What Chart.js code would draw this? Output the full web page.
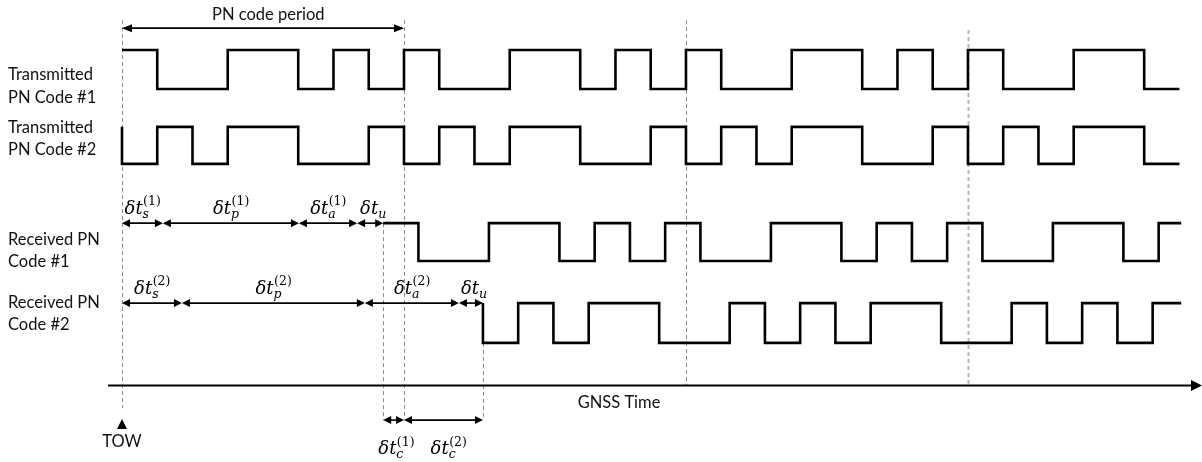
<!DOCTYPE html>
<html>
<head>
<meta charset="utf-8">
<script src="https://cdn.jsdelivr.net/npm/chart.js@4.4.1/dist/chart.umd.min.js"></script>
<style>
  html, body { margin: 0; padding: 0; background: #fff; }
  #wrap { width: 1202px; height: 462px; }
</style>
</head>
<body>
<div id="wrap"><canvas id="c" width="1202" height="462"></canvas></div>
<script>
// ---------------- DATA (x unit = one code chip, TOW = 0) ----------------
const codeLength = 8;                 // chips per PN code period
const windowEnd = 30.05;              // right end of the drawn signals (chips)

// chip values (1 = high, 0 = low)
const tx1Chips = [1,0,0,1,1,0,1,0, 1,0,0,1,1,0,1,0, 1,0,0,1,1,0,1,0, 1,0,0,1,1,0];
const tx2Chips = [0,1,0,1,1,0,0,1, 0,1,0,1,1,0,0,1, 0,1,0,1,1,0,0,1, 0,1,0,1,1,0];
const rx1Chips = [1,0,0,1,1,0,1,0, 1,0,0,1,1,0,1,0, 1,0,0,1,1,0,1];
const rx2Chips = [0,1,0,1,1,0,0,1, 0,1,0,1,1,0,0,1, 0,1,0,1];

// delay components (chips): satellite clock, propagation, atmosphere, user clock
const rx1Delays = [1.16, 3.86, 1.65, 0.74];
const rx2Delays = [1.70, 5.19, 2.67, 0.68];
const delayNames = ['s', 'p', 'a', 'u'];

const tx1Start = 0, tx2Start = 0;
const rx1Start = rx1Delays.reduce((a, b) => a + b, 0);   // ≈ 7.41
const rx2Start = rx2Delays.reduce((a, b) => a + b, 0);   // ≈ 10.24

// period boundaries (chips) drawn as dashed guide lines
const periodMarks = [0, 8, 16, 24];

// text
const rowLabels = [
  ['Transmitted', 'PN Code #1'],
  ['Transmitted', 'PN Code #2'],
  ['Received PN', 'Code #1'],
  ['Received PN', 'Code #2']
];

// ---------------- LAYOUT (positions / styles, in y-scale units) ----------------
const rows = {           // [low, high]
  tx1: [7.59, 8.59],
  tx2: [5.67, 6.62],
  rx1: [3.18, 4.15],
  rx2: [1.08, 2.10]
};
const labelY = [[7.95, 7.38], [6.59, 6.03], [3.72, 3.15], [2.10, 1.54]];
const TXT_FONT = '"Lato", "Open Sans", sans-serif';
const MATH_FONT = '"DejaVu Serif", serif';

function buildSteps(chips, start, row, leadEdge) {
  const pts = [];
  const [lo, hi] = rows[row];
  if (leadEdge) pts.push({ x: start, y: chips[0] ? lo : hi });
  chips.forEach((c, i) => {
    const x = start + i;
    if (x < windowEnd) pts.push({ x: x, y: c ? hi : lo });
  });
  const last = chips[chips.length - 1];
  pts.push({ x: Math.min(start + chips.length, windowEnd), y: last ? hi : lo });
  return pts;
}

function sigDataset(data) {
  return {
    data: data, stepped: 'before', borderColor: '#000', borderWidth: 2.6,
    pointRadius: 0, fill: false, borderJoinStyle: 'miter', borderCapStyle: 'butt'
  };
}

function arrowHead(ctx, x, y, dir, len, half) {
  ctx.beginPath();
  ctx.moveTo(x, y);
  ctx.lineTo(x - dir * len, y - half);
  ctx.lineTo(x - dir * len, y + half);
  ctx.closePath();
  ctx.fill();
}
function dblArrow(ctx, x1, x2, y, len, half, lw) {
  ctx.lineWidth = lw;
  ctx.beginPath();
  ctx.moveTo(x1 + 2, y);
  ctx.lineTo(x2 - 2, y);
  ctx.stroke();
  arrowHead(ctx, x1, y, -1, len, half);
  arrowHead(ctx, x2, y, 1, len, half);
}
function mathLabel(ctx, cx, base, sub, sup) {
  const mainF = 'italic 18px ' + MATH_FONT;
  const subF = 'italic 12.5px ' + MATH_FONT;
  const supF = '12.5px ' + MATH_FONT;
  ctx.font = mainF; const wm = ctx.measureText('\u03B4t').width;
  ctx.font = subF; const ws = ctx.measureText(sub).width;
  let wp = 0;
  if (sup) { ctx.font = supF; wp = ctx.measureText(sup).width; }
  const total = wm + Math.max(ws, wp);
  const x0 = cx - total / 2;
  ctx.textAlign = 'left'; ctx.textBaseline = 'alphabetic';
  ctx.font = mainF; ctx.fillText('\u03B4t', x0, base);
  ctx.font = subF; ctx.fillText(sub, x0 + wm, base + 4);
  if (sup) { ctx.font = supF; ctx.fillText(sup, x0 + wm + 0.5, base - 8.5); }
}

const overlay = {
  id: 'overlay',
  beforeDatasetsDraw(chart) {
    const ctx = chart.ctx, xs = chart.scales.x, ys = chart.scales.y;
    const px = v => xs.getPixelForValue(v), py = v => ys.getPixelForValue(v);
    ctx.save();
    // dashed guide lines
    const guides = [
      { x: periodMarks[0], y1: 9.36, y2: -0.59, c: '#8a8a8a', w: 1, d: [4, 3] },
      { x: rx1Start,       y1: rows.rx1[1], y2: -0.90, c: '#8a8a8a', w: 1, d: [4, 3] },
      { x: periodMarks[1], y1: 9.36, y2: -0.90, c: '#8a8a8a', w: 1, d: [4, 3] },
      { x: rx2Start,       y1: rows.rx2[0], y2: -0.90, c: '#8a8a8a', w: 1, d: [4, 3] },
      { x: periodMarks[2], y1: 9.36, y2: 0, c: '#8a8a8a', w: 1, d: [4, 3] },
      { x: periodMarks[3], y1: 9.10, y2: 0, c: '#b8b8b8', w: 2, d: [4, 3] }
    ];
    guides.forEach(g => {
      ctx.strokeStyle = g.c; ctx.lineWidth = g.w; ctx.setLineDash(g.d);
      const x = Math.round(px(g.x)) + 0.5;
      ctx.beginPath(); ctx.moveTo(x, py(g.y1)); ctx.lineTo(x, py(g.y2)); ctx.stroke();
    });
    ctx.setLineDash([]);
    ctx.restore();
  },
  afterDatasetsDraw(chart) {
    const ctx = chart.ctx, xs = chart.scales.x, ys = chart.scales.y;
    const px = v => xs.getPixelForValue(v), py = v => ys.getPixelForValue(v);
    ctx.save();
    ctx.fillStyle = '#000'; ctx.strokeStyle = '#000';

    // GNSS time axis
    const ay = Math.round(py(0)) + 0.5;
    ctx.lineWidth = 2;
    ctx.beginPath(); ctx.moveTo(chart.chartArea.left, ay); ctx.lineTo(chart.chartArea.right - 8, ay); ctx.stroke();
    arrowHead(ctx, chart.chartArea.right, ay, 1, 11, 5.5);

    // PN code period arrow
    dblArrow(ctx, px(periodMarks[0]), px(periodMarks[1]), py(9.15), 10, 4, 1.6);

    // delay arrows
    const drawDelays = (delays, sup, row) => {
      const y = py(rows[row][1]);
      let t = 0;
      delays.forEach((d, i) => {
        dblArrow(ctx, px(t), px(t + d), y, 8, 4, 1.6);
        const cx = px(t + d / 2);
        mathLabel(ctx, cx + (i === 3 ? 3 : 0), y - 9.5, delayNames[i], i === 3 ? null : sup);
        t += d;
      });
    };
    drawDelays(rx1Delays, '(1)', 'rx1');
    drawDelays(rx2Delays, '(2)', 'rx2');

    // code-phase arrows under axis
    const cy = py(-0.90);
    dblArrow(ctx, px(rx1Start), px(periodMarks[1]), cy, 8, 4, 1.6);
    dblArrow(ctx, px(periodMarks[1]), px(rx2Start), cy, 8, 4, 1.6);
    mathLabel(ctx, px(rx1Start) + 13, py(-1.77), 'c', '(1)');
    mathLabel(ctx, px((periodMarks[1] + rx2Start) / 2) + 5, py(-1.77), 'c', '(2)');

    // TOW marker
    const tx = px(0);
    ctx.beginPath();
    ctx.moveTo(tx, py(-0.87)); ctx.lineTo(tx - 5, py(-1.13)); ctx.lineTo(tx + 5, py(-1.13));
    ctx.closePath(); ctx.fill();

    // texts
    ctx.fillStyle = '#111';
    ctx.font = '16.5px ' + TXT_FONT;
    ctx.textBaseline = 'middle';
    ctx.textAlign = 'center';
    ctx.fillText('TOW', tx, py(-1.46));
    ctx.fillText('GNSS Time', px(14.1), py(-0.44));
    ctx.fillText('PN code period', px(4.15), py(9.49));
    ctx.textAlign = 'left';
    rowLabels.forEach((lines, r) => {
      lines.forEach((s, k) => ctx.fillText(s, 8, py(labelY[r][k])));
    });
    ctx.restore();
  }
};

new Chart(document.getElementById('c'), {
  type: 'line',
  data: {
    datasets: [
      sigDataset(buildSteps(tx1Chips, tx1Start, 'tx1', false)),
      sigDataset(buildSteps(tx2Chips, tx2Start, 'tx2', true)),
      sigDataset(buildSteps(rx1Chips, rx1Start, 'rx1', false)),
      sigDataset(buildSteps(rx2Chips, rx2Start, 'rx2', true))
    ]
  },
  options: {
    responsive: false,
    animation: false,
    parsing: false,
    layout: { padding: { left: 108, right: 0, top: 0, bottom: 0 } },
    plugins: { legend: { display: false }, tooltip: { enabled: false } },
    scales: {
      x: { type: 'linear', min: -0.397, max: 30.64, display: false },
      y: { type: 'linear', min: -1.974, max: 9.872, display: false }
    }
  },
  plugins: [overlay]
});
</script>
</body>
</html>
